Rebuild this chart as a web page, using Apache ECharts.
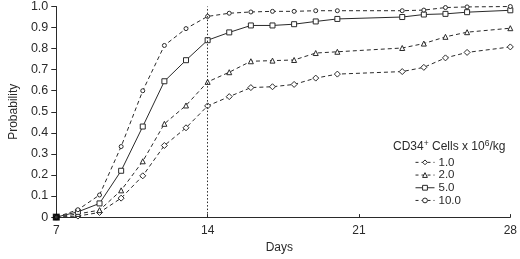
<!DOCTYPE html>
<html>
<head>
<meta charset="utf-8">
<script src="https://cdn.jsdelivr.net/npm/echarts@6/dist/echarts.min.js"></script>
<style>html,body{margin:0;padding:0;background:#fff}#c{width:520px;height:259px}</style>
</head>
<body>
<div id="c"></div>
<script>
var days = [7, 8, 9, 10, 11, 12, 13, 14, 15, 16, 17, 18, 19, 20, 23, 24, 25, 26, 28];
var dose1 = [0, 0.005, 0.022, 0.09, 0.196, 0.34, 0.424, 0.528, 0.572, 0.615, 0.619, 0.63, 0.66, 0.679, 0.691, 0.711, 0.756, 0.782, 0.808];
var dose2 = [0, 0.015, 0.033, 0.127, 0.265, 0.443, 0.53, 0.642, 0.688, 0.74, 0.743, 0.746, 0.779, 0.785, 0.803, 0.824, 0.856, 0.878, 0.897];
var dose5 = [0, 0.025, 0.065, 0.22, 0.43, 0.645, 0.745, 0.84, 0.877, 0.91, 0.91, 0.916, 0.929, 0.941, 0.95, 0.962, 0.965, 0.973, 0.982];
var dose10 = [0, 0.035, 0.105, 0.335, 0.60, 0.815, 0.895, 0.953, 0.968, 0.974, 0.977, 0.977, 0.98, 0.98, 0.98, 0.983, 0.995, 0.998, 1.0];
var seriesNames = ['1.0', '2.0', '5.0', '10.0'];
var xTicks = [7, 14, 21, 28];

function pairs(v) { return days.map(function (d, i) { return [d, v[i]]; }); }
var FONT = '"Liberation Sans", Arial, sans-serif';
var ink = '#2a2a2a';

function mk(name, vals, symbol, size, dashed) {
  return {
    name: name, type: 'line', data: pairs(vals),
    symbol: symbol, symbolSize: size, showSymbol: true,
    lineStyle: { color: ink, width: 1, type: dashed ? [4, 3] : 'solid' },
    itemStyle: { color: '#fff', borderColor: ink, borderWidth: 1 },
    animation: false
  };
}

function legItem(name, dashed) {
  return {
    name: name,
    itemStyle: { color: '#fff', borderColor: ink, borderWidth: 1 },
    lineStyle: { color: ink, width: 1, type: dashed ? [3, 3] : 'solid' }
  };
}

var chart = echarts.init(document.getElementById('c'), null, { renderer: 'canvas' });
var s10 = mk(seriesNames[3], dose10, 'circle', 4, true);
s10.markLine = {
  silent: true, symbol: 'none', label: { show: false },
  lineStyle: { color: ink, type: [1.5, 2], width: 1 },
  data: [[{ coord: [14, 0] }, { coord: [14, 1] }]]
};
chart.setOption({
  backgroundColor: '#fff',
  animation: false,
  grid: { left: 47, right: 5, top: 6, bottom: 33.5 },
  xAxis: {
    type: 'value', min: 7, max: 28, interval: 7,
    name: 'Days', nameLocation: 'middle', nameGap: 19,
    nameTextStyle: { color: ink, fontSize: 12, fontFamily: FONT, padding: [0, 8, 0, 0] },
    axisLine: { lineStyle: { color: ink, width: 1 } },
    axisTick: { show: true, inside: true, length: 3, lineStyle: { color: ink } },
    axisLabel: { color: ink, fontSize: 12, fontFamily: FONT, margin: 8,
      formatter: function (v) { return xTicks.indexOf(v) >= 0 ? String(v) : ''; } },
    splitLine: { show: false }
  },
  yAxis: {
    type: 'value', min: 0, max: 1, interval: 0.1,
    name: 'Probability', nameLocation: 'middle', nameGap: 32, nameRotate: 90,
    nameTextStyle: { color: ink, fontSize: 12, fontFamily: FONT },
    axisLine: { show: true, lineStyle: { color: ink, width: 1 } },
    axisTick: { show: true, length: 5, lineStyle: { color: ink } },
    axisLabel: { color: ink, fontSize: 12.5, fontFamily: FONT, margin: 8,
      formatter: function (v) { return v === 0 ? '0' : v.toFixed(1); } },
    splitLine: { show: false }
  },
  legend: {
    orient: 'vertical', left: 410, top: 151,
    itemWidth: 19, itemHeight: 6, itemGap: 0,
    textStyle: { color: ink, fontSize: 11.5, fontFamily: FONT, lineHeight: 12.7, padding: [0, 0, 0, -1] },
    data: [legItem(seriesNames[0], true), legItem(seriesNames[1], true), legItem(seriesNames[2], false), legItem(seriesNames[3], true)]
  },
  graphic: [{
    type: 'text', left: 393, top: 139,
    style: {
      text: '{n|CD34}{s|+}{n| Cells x 10}{s|6}{n|/kg}',
      rich: {
        n: { fontSize: 12, fontFamily: FONT, fill: ink, verticalAlign: 'bottom', lineHeight: 14 },
        s: { fontSize: 8.5, fontFamily: FONT, fill: ink, verticalAlign: 'top', lineHeight: 14 }
      }
    }
  }],
  series: [
    mk(seriesNames[0], dose1, 'diamond', 6, true),
    mk(seriesNames[1], dose2, 'triangle', 5, true),
    mk(seriesNames[2], dose5, 'rect', 5, false),
    s10,
    {
      type: 'scatter', data: [[days[0], dose1[0]]], symbol: 'rect', symbolSize: 7,
      itemStyle: { color: '#000' }, z: 10, silent: true, animation: false
    }
  ]
});
</script>
</body>
</html>
